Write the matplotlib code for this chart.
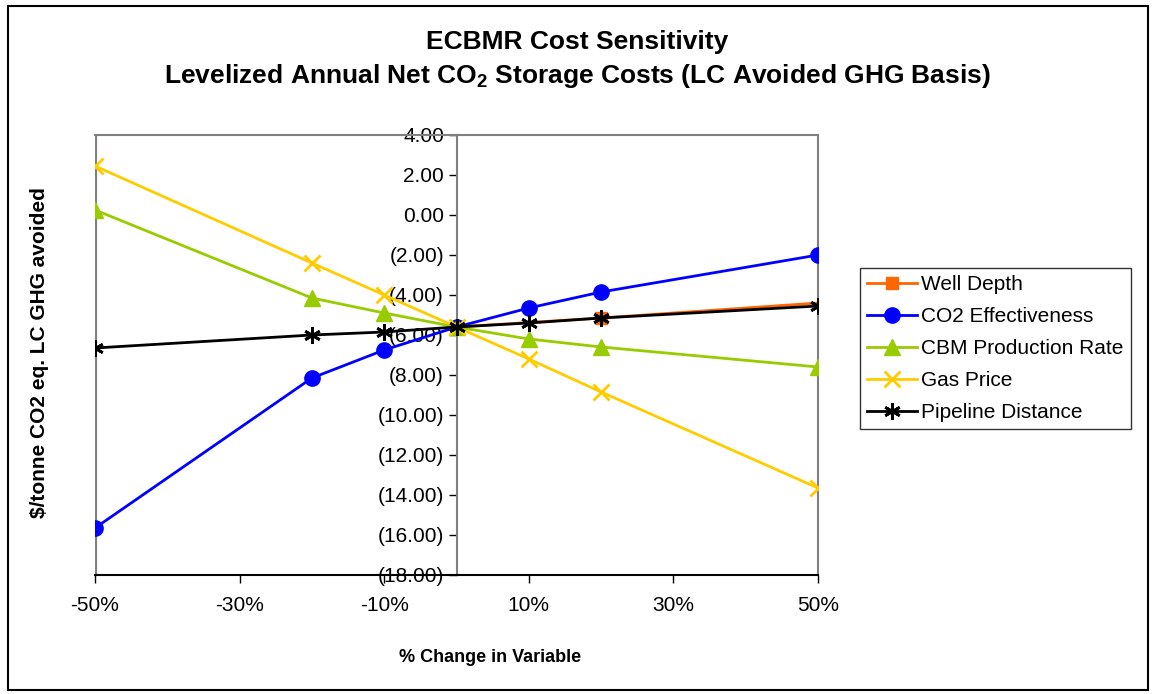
import matplotlib.pyplot as plt
from matplotlib.patches import Rectangle
from matplotlib.ticker import FuncFormatter

# data
pct = [-50, -20, -10, 0, 10, 20, 50]
well_x = [0, 20, 50]
well_depth = [-5.6, -5.15, -4.4]
co2_eff = [-15.65, -8.15, -6.75, -5.6, -4.65, -3.85, -2.0]
cbm_rate = [0.25, -4.15, -4.9, -5.6, -6.2, -6.6, -7.6]
gas_price = [2.45, -2.4, -4.0, -5.6, -7.2, -8.85, -13.65]
pipeline = [-6.65, -6.0, -5.85, -5.6, -5.4, -5.15, -4.55]

x_ticks = [-50, -30, -10, 10, 30, 50]
y_ticks = list(range(-18, 5, 2))

plt.rcParams['font.family'] = ['Liberation Sans', 'DejaVu Sans']

fig = plt.figure(figsize=(11.54, 6.94), dpi=100)
ax = fig.add_axes([95 / 1154, 1 - 575 / 694, (818 - 95) / 1154, (575 - 135) / 694])

lw = 2.0
ax.plot(well_x, well_depth, color='#FF6600', lw=lw, marker='s', ms=8,
        markevery=[0, 1], label='Well Depth', zorder=3)
ax.plot(pct, co2_eff, color='#0000FF', lw=lw, marker='o', ms=11,
        label='CO2 Effectiveness', zorder=3)
ax.plot(pct, cbm_rate, color='#99CC00', lw=lw, marker='^', ms=11,
        label='CBM Production Rate', zorder=3)
ax.plot(pct, gas_price, color='#FFCC00', lw=lw, marker='x', ms=11, mew=2,
        label='Gas Price', zorder=3)
ax.plot(pct, pipeline, color='black', lw=lw, marker=(6, 2, 0), ms=12, mew=2,
        label='Pipeline Distance', zorder=4)

ax.set_xlim(-50, 50)
ax.set_ylim(-18, 4)

# frame: grey box, black category axis, value axis crossing at 0
for s in ['top', 'right', 'left']:
    ax.spines[s].set_color('#808080')
    ax.spines[s].set_linewidth(1.5)
ax.spines['bottom'].set_color('black')
ax.spines['bottom'].set_linewidth(1.5)
ax.spines['left'].set_position(('data', 0))
ax.axvline(-50, color='#808080', lw=3, zorder=1)

ax.set_xticks(x_ticks)
ax.set_xticklabels([f'{v}%' for v in x_ticks])
ax.set_yticks(y_ticks)
ax.yaxis.set_major_formatter(FuncFormatter(
    lambda v, p: f'({abs(v):.2f})' if v < 0 else f'{v:.2f}'))
ax.tick_params(axis='x', direction='out', length=6, width=1, labelsize=15, pad=9)
ax.tick_params(axis='y', direction='out', length=6, width=1, colors='black',
               labelsize=15, pad=3)

fig.text(490 / 1154, 1 - 658 / 694, '% Change in Variable', ha='center', va='center',
         fontsize=13, fontweight='bold')
fig.text(40 / 1154, 1 - 353 / 694, '$/tonne CO2 eq. LC GHG avoided', rotation=90,
         ha='center', va='center', fontsize=15, fontweight='bold')

fig.text(0.5, 1 - 42 / 694, 'ECBMR Cost Sensitivity', ha='center', va='center',
         fontsize=19, fontweight='bold')
fig.text(0.5, 1 - 76 / 694,
         'Levelized Annual Net CO$_\\mathregular{2}$ Storage Costs (LC Avoided GHG Basis)',
         ha='center', va='center', fontsize=19, fontweight='bold')

leg = fig.legend(loc='upper left', bbox_to_anchor=(860 / 1154, 1 - 268 / 694),
                 fontsize=15, frameon=True, fancybox=False, handlelength=2.4,
                 borderpad=0.35, labelspacing=0.62, handletextpad=0.2,
                 borderaxespad=0)
leg.get_frame().set_edgecolor('black')
leg.get_frame().set_linewidth(1)

fig.patches.append(Rectangle((8 / 1154, 4 / 694), 1140 / 1154, 684 / 694,
                             transform=fig.transFigure, fill=False,
                             edgecolor='black', lw=1.5))

fig.savefig('out.png', dpi=100)
